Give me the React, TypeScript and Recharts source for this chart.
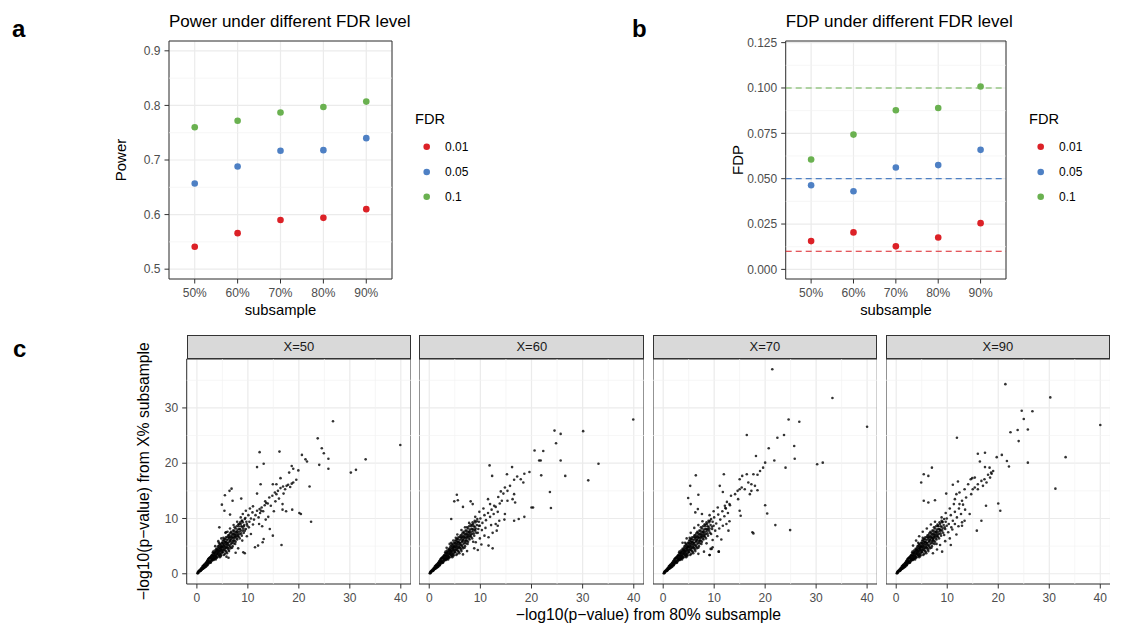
import React from 'react'
import {
  ScatterChart,
  Scatter,
  XAxis,
  YAxis,
  CartesianGrid,
  ReferenceLine,
  ReferenceArea,
} from 'recharts'

const FONT = '"Liberation Sans", Arial, Helvetica, sans-serif'

// panels a / b
const subsamples = ['50%', '60%', '70%', '80%', '90%']
const fdrLevels = ['0.01', '0.05', '0.1']
const fdrColors = ['#DC2127', '#4E80C4', '#6AB150']

const power001 = [0.541, 0.566, 0.590, 0.594, 0.610]
const power005 = [0.657, 0.688, 0.717, 0.718, 0.740]
const power010 = [0.760, 0.772, 0.787, 0.797, 0.807]

const fdp001 = [0.0156, 0.0204, 0.0127, 0.0176, 0.0255]
const fdp005 = [0.0464, 0.0431, 0.0562, 0.0575, 0.0659]
const fdp010 = [0.0606, 0.0743, 0.0877, 0.0890, 0.1008]

const powerTicks = [0.5, 0.6, 0.7, 0.8, 0.9]
const powerMinor = [0.55, 0.65, 0.75, 0.85]
const fdpTicks = [0, 0.025, 0.05, 0.075, 0.1, 0.125]
const fdpMinor = [0.0125, 0.0375, 0.0625, 0.0875, 0.1125]

// panel c
const facetLabels = ['X=50', 'X=60', 'X=70', 'X=90']
const facetXTicks = [0, 10, 20, 30, 40]
const facetYTicks = [0, 10, 20, 30]
const facetMinor = [5, 15, 25, 35]

// saturated band near the origin, same in all four facets
const denseCore: number[][] = [
  [0.1, 0.1], [0.2, 0.3], [0.3, 0.2], [0.4, 0.5], [0.5, 0.4], [0.6, 0.7], [0.7, 0.5], [0.8, 0.9], [0.9, 0.7],
  [1.0, 1.1], [1.0, 0.8], [0.5, 0.6], [0.2, 0.1], [0.8, 0.6],
  [1.1, 1.3], [1.2, 0.9], [1.3, 1.5], [1.4, 1.1], [1.5, 1.7], [1.5, 1.2], [1.6, 1.4], [1.7, 1.9], [1.8, 1.3],
  [1.9, 2.1], [1.9, 1.6], [2.0, 1.8], [1.3, 1.0], [1.7, 1.5], [1.2, 1.4],
  [2.1, 2.4], [2.1, 1.6], [2.2, 2.0], [2.3, 2.7], [2.4, 1.9], [2.5, 2.3], [2.5, 2.9], [2.6, 2.1], [2.7, 2.6],
  [2.8, 3.2], [2.8, 2.2], [2.9, 2.8], [3.0, 2.4], [3.0, 3.4], [2.3, 2.2], [2.6, 3.0], [2.2, 1.8],
  [3.1, 2.7], [3.1, 3.8], [3.2, 3.1], [3.3, 2.5], [3.4, 3.6], [3.4, 2.9], [3.5, 4.2], [3.6, 3.3], [3.6, 2.8],
  [3.7, 3.9], [3.8, 3.1], [3.8, 4.5], [3.9, 3.6], [4.0, 3.0], [4.0, 4.1], [3.3, 3.3], [3.7, 2.6], [3.2, 4.0],
  [4.1, 4.7], [4.2, 3.5], [4.2, 3.9], [4.3, 4.4], [4.4, 3.2], [4.4, 5.1], [4.5, 4.0], [4.6, 4.6], [4.6, 3.6],
  [4.7, 5.3], [4.8, 4.2], [4.8, 3.4], [4.9, 4.9], [5.0, 4.4], [5.0, 5.6], [4.3, 5.6], [4.5, 3.0], [4.7, 4.9],
  [5.1, 3.9], [5.1, 5.2], [5.2, 4.7], [5.3, 6.0], [5.4, 4.3], [5.4, 5.4], [5.5, 3.6], [5.5, 5.0], [5.6, 6.3],
  [5.7, 4.6], [5.8, 5.7], [5.8, 4.0], [5.9, 5.2], [6.0, 6.6], [6.0, 4.8], [5.2, 6.5], [5.6, 5.8],
  [6.1, 5.5], [6.2, 6.2], [6.2, 4.4], [6.3, 7.0], [6.4, 5.1], [6.5, 5.9], [6.6, 6.8], [6.6, 4.6], [6.7, 6.3],
  [6.8, 7.4], [6.9, 5.6], [7.0, 6.6], [7.0, 5.0], [6.4, 6.6],
  [7.1, 7.2], [7.2, 6.0], [7.3, 7.8], [7.4, 6.5], [7.5, 5.4], [7.5, 7.1], [7.6, 8.2], [7.7, 6.8], [7.8, 7.5],
  [7.9, 6.2], [8.0, 8.0], [7.3, 6.9],
  [8.1, 7.0], [8.2, 8.6], [8.3, 7.6], [8.4, 6.4], [8.5, 8.1], [8.6, 9.0], [8.7, 7.3], [8.9, 8.5], [9.0, 7.8], [9.0, 9.3],
  // second pass over the same band, filling gaps
  [0.3, 0.4], [0.6, 0.5], [0.9, 1.0], [1.1, 0.9], [1.4, 1.6], [1.6, 1.2], [1.8, 2.0], [2.0, 1.5], [2.0, 2.3],
  [2.2, 2.6], [2.4, 2.2], [2.4, 2.8], [2.7, 2.0], [2.7, 3.0], [2.9, 2.5], [2.9, 3.3], [3.0, 2.9], [3.1, 3.3],
  [3.2, 2.6], [3.3, 3.7], [3.4, 3.1], [3.5, 2.7], [3.5, 3.9], [3.6, 3.6], [3.7, 3.2], [3.8, 4.1], [3.9, 2.9],
  [3.9, 4.4], [4.0, 3.5], [4.1, 3.8], [4.1, 4.3], [4.2, 5.0], [4.3, 3.3], [4.3, 4.1], [4.4, 4.7], [4.5, 3.6],
  [4.5, 5.4], [4.6, 4.2], [4.7, 3.2], [4.7, 4.5], [4.8, 5.0], [4.9, 3.8], [4.9, 5.6], [5.0, 4.0], [5.0, 4.8],
  [5.1, 6.0], [5.2, 4.3], [5.2, 5.5], [5.3, 3.4], [5.3, 5.0], [5.4, 6.3], [5.5, 4.6], [5.5, 5.8], [5.6, 4.1],
  [5.7, 5.4], [5.7, 6.6], [5.8, 4.9], [5.9, 6.1], [5.9, 3.7], [6.0, 5.6], [6.1, 4.6], [6.1, 6.9], [6.2, 5.2],
  [6.3, 6.5], [6.3, 4.1], [6.4, 5.8], [6.5, 7.3], [6.5, 4.9], [6.6, 6.1], [6.7, 5.4], [6.7, 7.6], [6.8, 6.6],
  [6.9, 4.7], [6.9, 7.0], [7.0, 5.9], [7.1, 6.4], [7.1, 7.8], [7.2, 5.5], [7.3, 7.3], [7.4, 6.0], [7.4, 8.4],
  [7.5, 6.7], [7.6, 5.8], [7.6, 7.6], [7.7, 7.1], [7.8, 6.4], [7.8, 8.6], [7.9, 7.7], [8.0, 6.8], [8.0, 7.3],
  [8.1, 8.9], [8.2, 6.7], [8.3, 8.1], [8.4, 7.2], [8.5, 9.3], [8.6, 7.8], [8.7, 8.6], [8.8, 6.9], [8.9, 9.6],
  [9.1, 8.2], [9.2, 7.4], [9.3, 8.8], [9.4, 9.9], [9.6, 8.1], [9.7, 9.4], [9.9, 8.7],
]

const facet50: number[][] = [
  [8.3, 9.0], [8.8, 9.6], [9.2, 8.6], [9.5, 10.1], [9.8, 9.0], [10.1, 10.6], [10.3, 9.4], [10.6, 10.0],
  [10.9, 11.1], [11.2, 9.8], [11.5, 10.6], [11.8, 11.4], [12.1, 10.2], [12.4, 11.0], [12.7, 12.0], [13.0, 11.3],
  [13.3, 12.4], [9.0, 10.8], [9.6, 11.4], [10.4, 11.8], [11.0, 12.2], [8.6, 10.2], [7.9, 9.4], [7.2, 8.8],
  [6.5, 8.2], [6.0, 7.6], [5.6, 7.4], [4.8, 6.4], [4.2, 5.9], [3.6, 5.0], [9.4, 7.8], [10.2, 8.4], [11.0, 8.9],
  [10.6, 7.2], [9.8, 6.8], [8.9, 6.0], [12.2, 9.0], [12.8, 8.6], [13.5, 9.8], [14.0, 10.3], [14.3, 8.1],
  [14.9, 6.9], [13.1, 6.3], [12.9, 5.7], [12.0, 5.1], [11.4, 4.8], [9.1, 3.9], [9.4, 3.7], [7.6, 3.8],
  [8.1, 4.6], [6.2, 2.9], [5.8, 3.1], [4.4, 8.4], [5.7, 7.5],
  [14.9, 16.2], [15.6, 16.2], [15.3, 14.7], [15.6, 14.4], [14.8, 14.1], [15.9, 15.0], [16.4, 15.5], [16.9, 15.8],
  [17.3, 15.3], [17.6, 15.9], [17.9, 16.1], [18.3, 15.7], [18.6, 16.3], [18.9, 16.5], [16.1, 13.6], [15.4, 13.1],
  [14.2, 13.8], [13.6, 12.8], [14.5, 12.3], [17.0, 14.5], [16.8, 12.6], [16.8, 11.6], [17.5, 11.3], [18.7, 11.6],
  [15.1, 11.3], [13.4, 13.1], [13.9, 12.7], [12.3, 11.7], [12.6, 11.4],
  [26.7, 27.6], [39.9, 23.3], [23.7, 24.5], [24.5, 22.7], [24.9, 21.8], [25.8, 20.8], [24.0, 19.7], [25.8, 19.0],
  [33.1, 20.7], [31.2, 18.8], [30.2, 18.3], [20.6, 21.5], [21.3, 20.7], [21.6, 20.3], [16.2, 22.1], [12.3, 22.0],
  [13.1, 19.9], [11.8, 19.3], [18.6, 19.5], [18.9, 19.0], [19.9, 18.7], [18.1, 18.3], [19.5, 17.0], [22.1, 15.8],
  [20.1, 11.0], [20.4, 10.8], [22.4, 9.4], [16.6, 5.2], [16.4, 17.3], [12.5, 16.2], [6.8, 15.4], [6.4, 15.0],
  [5.5, 14.2], [4.9, 12.5], [7.0, 13.2], [8.7, 13.6], [5.4, 11.4], [6.5, 10.7], [11.8, 14.5],
]

const facet60: number[][] = [
  [8.4, 8.8], [8.9, 8.0], [9.3, 9.5], [9.7, 8.7], [10.0, 10.0], [10.4, 9.2], [10.8, 10.6], [11.1, 9.7],
  [11.5, 11.0], [11.9, 10.3], [12.2, 11.6], [12.6, 10.8], [13.0, 12.1], [13.4, 11.2], [13.8, 12.7], [14.2, 13.2],
  [9.0, 10.3], [9.8, 11.2], [10.6, 11.8], [7.8, 9.2], [7.0, 8.4], [6.3, 7.9], [5.5, 7.1], [4.7, 6.0], [4.0, 5.4],
  [3.4, 4.7], [9.5, 7.4], [10.3, 7.9], [11.0, 8.3], [10.8, 6.9], [9.9, 6.4], [8.6, 5.8], [12.1, 8.8], [13.0, 9.0],
  [13.7, 9.6], [12.4, 7.4], [11.6, 6.6], [8.8, 4.6], [7.4, 4.1], [6.6, 3.5], [10.2, 5.3],
  [39.9, 27.9], [24.5, 25.9], [25.7, 25.3], [30.1, 25.8], [24.8, 23.6], [20.6, 22.3], [22.3, 22.2], [21.5, 20.5],
  [21.8, 20.5], [25.7, 20.5], [33.1, 19.9], [21.9, 17.8], [26.6, 17.7], [31.1, 16.9], [23.6, 14.8], [20.0, 12.0],
  [20.3, 12.0], [23.8, 11.9], [11.8, 19.6], [16.2, 19.3], [12.3, 17.7], [15.2, 18.0], [18.6, 18.1], [19.6, 18.4],
  [17.9, 17.1], [18.4, 16.5], [16.6, 17.0], [15.8, 15.9], [14.8, 15.6], [15.3, 15.0], [14.5, 14.5], [16.6, 14.4],
  [16.3, 13.5], [15.3, 13.2], [16.8, 12.9], [5.4, 14.3], [4.9, 13.1], [5.6, 13.3], [8.1, 13.1], [8.5, 12.6],
  [6.6, 12.1], [4.3, 9.9], [11.5, 13.5], [11.9, 12.6], [12.7, 12.3], [14.8, 10.8], [14.7, 9.8], [16.6, 9.6],
  [17.5, 9.9], [18.6, 10.3], [13.2, 7.8], [13.4, 8.7], [11.6, 5.1], [12.4, 4.6], [9.5, 4.3], [9.1, 5.7],
  [17.2, 17.6], [14.0, 14.9], [13.5, 13.9],
]

const facet70: number[][] = [
  [8.3, 8.9], [8.8, 8.1], [9.2, 9.6], [9.6, 8.5], [10.0, 10.2], [10.4, 9.1], [10.8, 10.7], [11.2, 9.8],
  [11.6, 11.3], [12.0, 10.4], [12.3, 11.8], [12.7, 11.0], [13.1, 12.4], [12.5, 13.0], [9.1, 10.6], [9.9, 11.3],
  [10.7, 12.0], [7.7, 9.5], [6.9, 8.8], [6.1, 8.3], [5.4, 7.4], [4.6, 6.4], [3.8, 5.6], [9.4, 7.2], [10.2, 7.8],
  [11.0, 8.2], [11.7, 8.7], [10.6, 6.8], [9.7, 6.1], [8.5, 5.5], [12.4, 9.0], [13.0, 9.5], [12.8, 7.8],
  [11.4, 6.2], [9.3, 4.5], [8.0, 4.0], [6.9, 3.6], [10.9, 4.0], [9.1, 3.4],
  [21.4, 37.0], [33.2, 31.8], [40.0, 26.6], [24.6, 27.9], [26.7, 27.5], [16.4, 25.1], [22.4, 24.6], [23.7, 25.1],
  [25.7, 23.1], [20.7, 22.7], [25.8, 20.8], [18.2, 21.3], [21.8, 20.5], [20.0, 20.1], [24.0, 19.2], [30.2, 19.8],
  [31.3, 20.1], [19.6, 19.2], [19.0, 18.6], [6.4, 17.8], [11.9, 18.0], [5.3, 15.9], [4.9, 13.7], [5.4, 12.6],
  [6.9, 14.3], [11.1, 15.9], [11.7, 14.8], [15.0, 17.1], [15.5, 17.7], [16.4, 18.0], [17.7, 18.0], [18.5, 17.9],
  [16.7, 16.5], [17.3, 16.2], [18.0, 15.9], [18.5, 15.1], [16.0, 15.3], [15.0, 15.3], [14.6, 15.0], [14.1, 14.4],
  [13.3, 14.1], [14.7, 13.5], [17.3, 15.0], [17.0, 14.4], [15.4, 15.6], [13.0, 12.6], [12.1, 12.3], [12.2, 11.9],
  [15.2, 10.5], [15.0, 11.4], [6.3, 11.1], [6.8, 11.7], [7.6, 10.8], [9.5, 4.5], [9.7, 4.8], [10.9, 4.0],
  [9.1, 3.4], [17.7, 7.3], [17.5, 7.5], [20.0, 12.4], [20.4, 10.9], [22.0, 8.8], [24.9, 7.9],
]

const facet90: number[][] = [
  [8.2, 8.7], [8.7, 7.9], [9.1, 9.4], [9.5, 8.4], [9.9, 10.0], [10.3, 9.0], [10.7, 10.6], [11.1, 9.6],
  [11.5, 11.2], [11.9, 10.2], [12.3, 11.8], [12.7, 10.8], [13.1, 12.5], [13.5, 11.6], [8.9, 10.2], [9.7, 11.0],
  [10.5, 11.8], [11.3, 12.6], [7.6, 9.4], [6.8, 8.9], [6.0, 8.2], [5.2, 7.6], [4.5, 6.8], [3.9, 6.0], [3.3, 5.1],
  [9.4, 7.0], [10.2, 7.5], [11.0, 8.0], [10.5, 6.4], [9.6, 5.9], [8.6, 5.2], [12.2, 8.6], [12.9, 9.3],
  [11.8, 7.1], [8.0, 4.4], [7.2, 3.7], [9.0, 4.0], [10.7, 5.2], [14.4, 10.8], [13.4, 9.6], [12.9, 8.7],
  [11.5, 9.0], [10.8, 8.4], [7.2, 6.3], [7.9, 5.4],
  [21.4, 34.3], [30.2, 31.9], [40.0, 26.9], [24.6, 29.5], [26.7, 29.4], [25.0, 28.0], [23.8, 26.0], [25.8, 26.1],
  [22.4, 25.6], [24.0, 24.0], [11.9, 24.6], [33.2, 21.1], [20.7, 21.5], [19.7, 21.1], [21.7, 20.4], [22.1, 19.4],
  [25.8, 20.1], [31.2, 15.4], [17.4, 21.9], [16.0, 21.7], [16.4, 20.3], [17.4, 19.3], [18.3, 19.2], [18.7, 18.1],
  [14.9, 17.3], [15.4, 17.4], [16.7, 16.8], [17.3, 17.1], [18.0, 17.9], [18.4, 17.4], [16.0, 16.2], [15.4, 15.6],
  [15.0, 15.3], [14.7, 14.4], [13.7, 13.8], [12.9, 13.2], [16.0, 15.3], [17.0, 15.9], [17.7, 16.5], [18.6, 18.3],
  [19.0, 18.6], [14.6, 17.1], [14.1, 16.2], [13.4, 15.3], [12.4, 14.7], [11.8, 14.4], [11.5, 13.5], [12.4, 12.6],
  [7.0, 19.2], [5.4, 18.0], [6.3, 17.7], [4.9, 16.5], [11.1, 16.1], [12.1, 16.7], [9.8, 14.5], [5.4, 13.2],
  [6.3, 12.9], [7.6, 13.3], [20.0, 12.7], [20.4, 11.4], [17.6, 12.3], [16.7, 9.6], [15.8, 7.8],
]

const facetPoints = [facet50, facet60, facet70, facet90]

const tickStyle = { fill: '#4d4d4d', fontSize: 12, fontFamily: FONT }
const tickLine = { stroke: '#333333' }

const toRows = (vals: number[]) => vals.map((y, i) => ({ x: i + 1, y }))

function FdrPanel({ left, width, plotLeft, plotRight, domain, ticks, minor, series, fmt, hlines }: any) {
  return (
    <div style={{ position: 'absolute', left, top: 0 }}>
      <ScatterChart
        width={width}
        height={320}
        margin={{ top: 41, right: width - plotRight, bottom: 21, left: 0 }}
      >
        <CartesianGrid stroke="#ebebeb" strokeWidth={1.2} />
        {minor.map((v: number) => (
          <ReferenceLine key={v} y={v} stroke="#f2f2f2" strokeWidth={0.7} />
        ))}
        <XAxis
          type="number"
          dataKey="x"
          domain={[0.4, 5.6]}
          ticks={[1, 2, 3, 4, 5]}
          interval={0}
          tickFormatter={(v) => subsamples[v - 1]}
          axisLine={false}
          tickLine={tickLine}
          tickSize={4.5}
          tickMargin={5}
          tick={tickStyle}
          height={20}
        />
        <YAxis
          type="number"
          dataKey="y"
          domain={domain}
          allowDataOverflow
          ticks={ticks}
          interval={0}
          tickFormatter={fmt}
          axisLine={false}
          tickLine={tickLine}
          tickSize={4.5}
          tickMargin={4}
          tick={tickStyle}
          width={plotLeft}
        />
        {hlines &&
          hlines.map((v: number, i: number) => (
            <ReferenceLine key={'h' + i} y={v} stroke={fdrColors[i]} strokeWidth={1.2} strokeDasharray="6 4" />
          ))}
        {series.map((vals: number[], i: number) => (
          <Scatter
            key={i}
            data={toRows(vals)}
            isAnimationActive={false}
            shape={(p: any) => <circle cx={p.cx} cy={p.cy} r={3.3} fill={fdrColors[i]} />}
          />
        ))}
        <ReferenceArea
          x1={0.4}
          x2={5.6}
          y1={domain[0]}
          y2={domain[1]}
          fill="none"
          fillOpacity={0}
          stroke="#333333"
          strokeWidth={1}
          ifOverflow="visible"
        />
      </ScatterChart>
    </div>
  )
}

function Facet({ idx, left, width, showY }: any) {
  const yw = showY ? 46.7 : 0
  const rows = [...denseCore, ...facetPoints[idx]].map(([x, y]) => ({ x, y }))
  return (
    <div style={{ position: 'absolute', left, top: 358 }}>
      <ScatterChart width={width} height={246} margin={{ top: 1, right: 0, bottom: 0, left: 0 }}>
        <CartesianGrid stroke="#ebebeb" strokeWidth={1.2} />
        {facetMinor.map((v) => (
          <ReferenceLine key={'y' + v} y={v} stroke="#f2f2f2" strokeWidth={0.7} />
        ))}
        {facetMinor.map((v) => (
          <ReferenceLine key={'x' + v} x={v} stroke="#f2f2f2" strokeWidth={0.7} />
        ))}
        <XAxis
          type="number"
          dataKey="x"
          domain={[-2, 42]}
          allowDataOverflow
          ticks={facetXTicks}
          interval={0}
          axisLine={false}
          tickLine={tickLine}
          tickSize={4.5}
          tickMargin={4.5}
          tick={tickStyle}
          height={20}
        />
        <YAxis
          type="number"
          dataKey="y"
          domain={[-1.85, 38.85]}
          allowDataOverflow
          ticks={facetYTicks}
          interval={0}
          axisLine={false}
          tickLine={tickLine}
          tickSize={4.5}
          tickMargin={4}
          tick={tickStyle}
          width={yw}
          hide={!showY}
        />
        <Scatter
          data={rows}
          isAnimationActive={false}
          shape={(p: any) => <circle cx={p.cx} cy={p.cy} r={1.3} fill="#000" fillOpacity={0.8} />}
        />
        <ReferenceArea
          x1={-2}
          x2={42}
          y1={-1.85}
          y2={38.85}
          fill="none"
          fillOpacity={0}
          stroke="#333333"
          strokeWidth={1}
          ifOverflow="visible"
        />
      </ScatterChart>
    </div>
  )
}

const facetBoxes = [
  { left: 140, width: 271, plotLeft: 186.7, showY: true },
  { left: 419.3, width: 225, plotLeft: 419.3, showY: false },
  { left: 652.7, width: 224.3, plotLeft: 652.7, showY: false },
  { left: 885.7, width: 224.5, plotLeft: 885.7, showY: false },
]

function Legend({ x }: { x: number }) {
  const ys = [146.7, 172, 196.7]
  return (
    <g fontFamily={FONT}>
      <text x={x} y={124.3} fontSize={14.6} fill="#000">FDR</text>
      {fdrLevels.map((lab, i) => (
        <g key={lab}>
          <circle cx={x + 11.7} cy={ys[i]} r={3.3} fill={fdrColors[i]} />
          <text x={x + 30} y={ys[i]} dy="0.35em" fontSize={12} fill="#000">{lab}</text>
        </g>
      ))}
    </g>
  )
}

export default function App() {
  return (
    <div style={{ position: 'absolute', left: 0, top: 0, width: 1127, height: 625, background: '#fff', fontFamily: FONT }}>
      <FdrPanel
        left={0}
        width={560}
        plotLeft={169}
        plotRight={392}
        domain={[0.482, 0.918]}
        ticks={powerTicks}
        minor={powerMinor}
        series={[power001, power005, power010]}
        fmt={(v: number) => v.toFixed(1)}
      />
      <FdrPanel
        left={560}
        width={567}
        plotLeft={225.7}
        plotRight={446}
        domain={[-0.0053, 0.1259]}
        ticks={fdpTicks}
        minor={fdpMinor}
        series={[fdp001, fdp005, fdp010]}
        fmt={(v: number) => v.toFixed(3)}
        hlines={[0.01, 0.05, 0.1]}
      />

      {facetBoxes.map((b, i) => (
        <Facet key={i} idx={i} left={b.left} width={b.width} showY={b.showY} />
      ))}

      {facetBoxes.map((b, i) => (
        <div
          key={'s' + i}
          style={{
            position: 'absolute',
            left: b.plotLeft,
            top: 335,
            width: b.left + b.width - b.plotLeft,
            height: 24,
            boxSizing: 'border-box',
            border: '1px solid #333333',
            background: '#d9d9d9',
            color: '#1a1a1a',
            fontSize: 13,
            lineHeight: '22px',
            textAlign: 'center',
          }}
        >
          {facetLabels[i]}
        </div>
      ))}

      <svg
        width={1127}
        height={625}
        style={{ position: 'absolute', left: 0, top: 0, pointerEvents: 'none' }}
        fontFamily={FONT}
      >
        <text x={12} y={37} fontSize={24} fontWeight="bold">a</text>
        <text x={632} y={37} fontSize={24} fontWeight="bold">b</text>
        <text x={13} y={357} fontSize={24} fontWeight="bold">c</text>

        <text x={169} y={27} fontSize={17}>Power under different FDR level</text>
        <text x={785.7} y={27} fontSize={17}>FDP under different FDR level</text>

        <text transform="translate(126,160) rotate(-90)" textAnchor="middle" fontSize={15}>Power</text>
        <text transform="translate(743,160) rotate(-90)" textAnchor="middle" fontSize={15}>FDP</text>
        <text x={280.5} y={315} textAnchor="middle" fontSize={14.8}>subsample</text>
        <text x={896} y={315} textAnchor="middle" fontSize={14.8}>subsample</text>

        <Legend x={415} />
        <Legend x={1029} />

        <text transform="translate(148.5,471.3) rotate(-90)" textAnchor="middle" fontSize={15.7}>
          −log10(p−value) from X% subsample
        </text>
        <text x={648.4} y={620} textAnchor="middle" fontSize={15.7}>
          −log10(p−value) from 80% subsample
        </text>
      </svg>
    </div>
  )
}
